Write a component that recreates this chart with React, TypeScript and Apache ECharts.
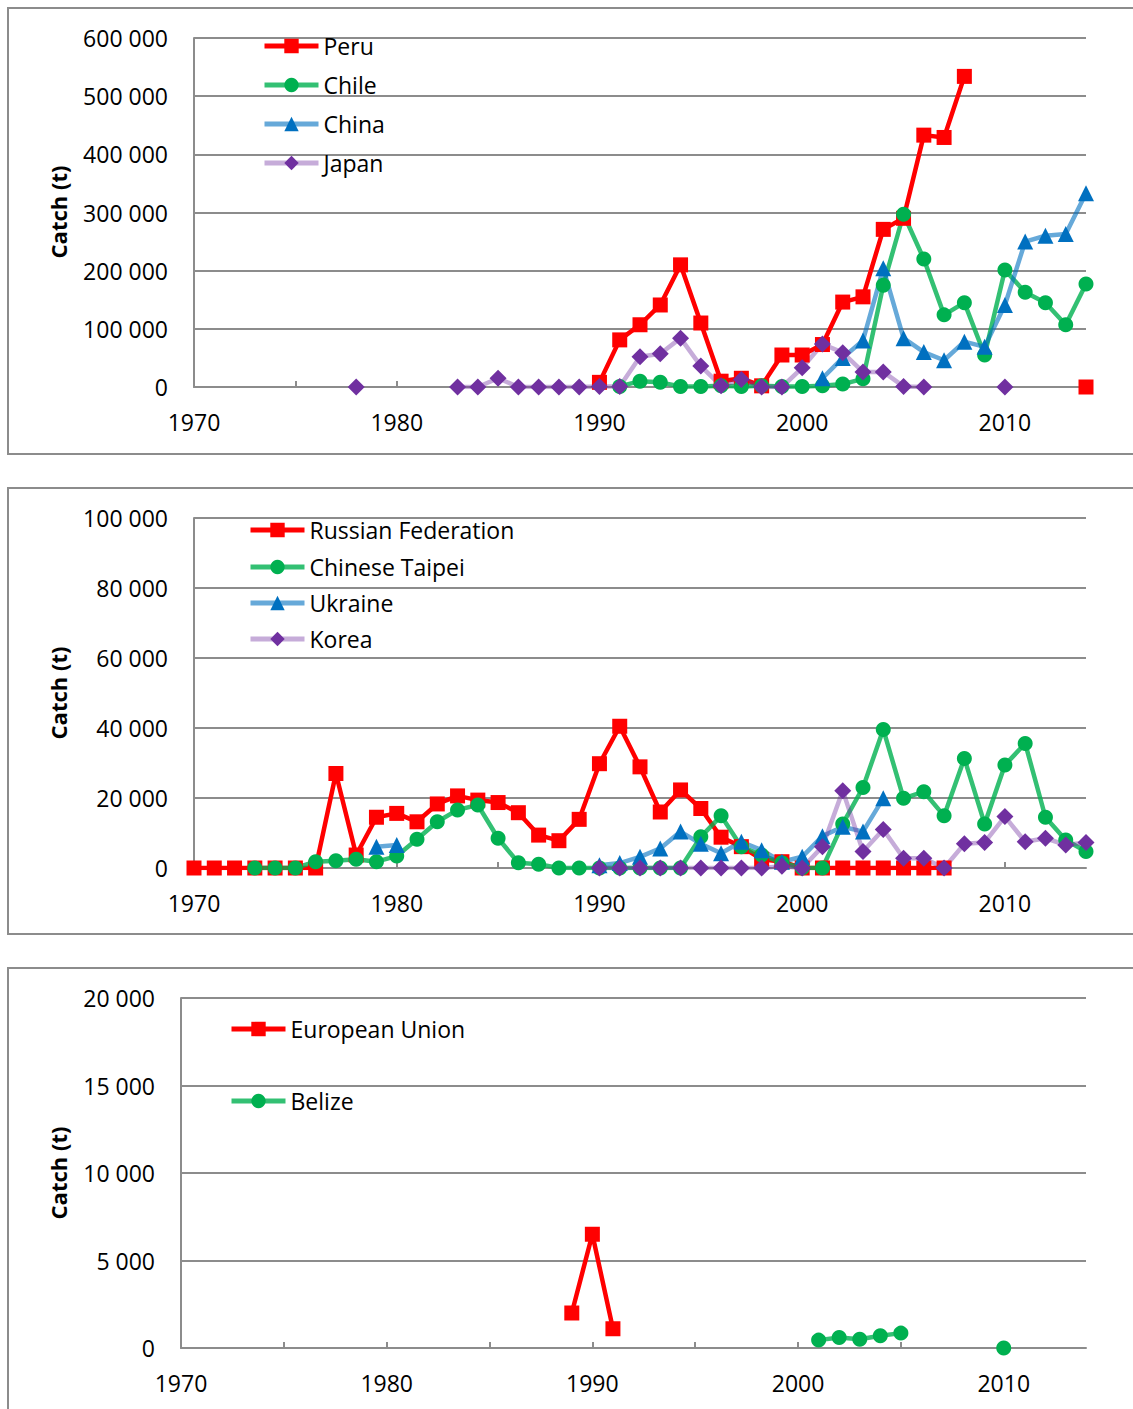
import React, { useEffect, useRef } from 'react';
import * as echarts from 'echarts';

const years = [
  '1970','1971','1972','1973','1974','1975','1976','1977','1978','1979',
  '1980','1981','1982','1983','1984','1985','1986','1987','1988','1989',
  '1990','1991','1992','1993','1994','1995','1996','1997','1998','1999',
  '2000','2001','2002','2003','2004','2005','2006','2007','2008','2009',
  '2010','2011','2012','2013','2014',
];

const _ = null;

// Panel 1
const peru = [
  _, _, _, _, _, _, _, _, _, _,
  _, _, _, _, _, _, _, _, _, _,
  8000, 81000, 107000, 141000, 210000, 110000, 10000, 15000, 2000, 55000,
  55000, 73000, 146000, 155000, 271000, 290000, 433000, 429000, 534000, _,
  _, _, _, _, 0,
];
const chile = [
  _, _, _, _, _, _, _, _, _, _,
  _, _, _, _, _, _, _, _, _, _,
  _, 1000, 10000, 8000, 1000, 1000, 2000, 1000, 2000, 1000,
  1000, 2000, 5000, 14000, 175000, 297000, 220000, 124000, 145000, 55000,
  201000, 163000, 145000, 107000, 177000,
];
const china = [
  _, _, _, _, _, _, _, _, _, _,
  _, _, _, _, _, _, _, _, _, _,
  _, _, _, _, _, _, _, _, _, _,
  _, 15000, 50000, 80000, 204000, 84000, 60000, 46000, 78000, 69000,
  141000, 250000, 260000, 263000, 333000,
];
const japan = [
  _, _, _, _, _, _, _, _, 0, _,
  _, _, _, 0, 0, 15000, 0, 0, 0, 0,
  1000, 1000, 52000, 57000, 84000, 36000, 2000, 13000, 0, 0,
  33000, 74000, 59000, 26000, 26000, 1000, 0, _, _, _,
  0, _, _, _, _,
];

// Panel 2
const russia = [
  0, 0, 0, 0, 0, 0, 0, 27000, 3700, 14500,
  15600, 13200, 18300, 20600, 19400, 18700, 15800, 9400, 7800, 13900,
  29800, 40500, 28900, 16000, 22300, 17000, 8800, 6100, 2500, 1800,
  0, 0, 0, 0, 0, 0, 0, 0, _, _,
  _, _, _, _, _,
];
const taipei = [
  _, _, _, 0, 0, 0, 1800, 2100, 2500, 1800,
  3400, 8200, 13200, 16600, 18000, 8500, 1500, 1100, 0, 0,
  0, 0, 0, 0, 0, 8900, 14900, 6100, 3700, 1500,
  0, 0, 12600, 23000, 39600, 19900, 21800, 14900, 31300, 12600,
  29400, 35600, 14500, 8000, 4700,
];
const ukraine = [
  _, _, _, _, _, _, _, _, _, 6100,
  6600, _, _, _, _, _, _, _, _, _,
  800, 1400, 3200, 5600, 10400, 6900, 4200, 7500, 5100, 1800,
  3200, 9100, 11800, 10400, 19900, _, _, _, _, _,
  _, _, _, _, _,
];
const korea = [
  _, _, _, _, _, _, _, _, _, _,
  _, _, _, _, _, _, _, _, _, _,
  0, 0, 0, 0, 0, 0, 0, 0, 0, 500,
  0, 6100, 22100, 4700, 11000, 2800, 2800, 0, 6900, 7300,
  14700, 7500, 8500, 6600, 7300,
];

// Panel 3
const eu = [
  _, _, _, _, _, _, _, _, _, _,
  _, _, _, _, _, _, _, _, _, 2000,
  6500, 1100, _, _, _, _, _, _, _, _,
  _, _, _, _, _, _, _, _, _, _,
  _, _, _, _, _,
];
const belize = [
  _, _, _, _, _, _, _, _, _, _,
  _, _, _, _, _, _, _, _, _, _,
  _, _, _, _, _, _, _, _, _, _,
  _, 450, 600, 500, 700, 850, _, _, _, _,
  0, _, _, _, _,
];

const yMax = [600000, 100000, 20000];
const yStep = [100000, 20000, 5000];
const yName = 'Catch (t)';

const FONT = '"Open Sans", "Noto Sans", sans-serif';
const GRAY = '#8c8c8c';

const STYLES: Record<string, any> = {
  red: { symbol: 'rect', size: 15, marker: '#FF0000', line: '#FF0000', op: 1 },
  green: { symbol: 'circle', size: 15, marker: '#00B050', line: '#00B050', op: 0.8 },
  blue: { symbol: 'triangle', size: 16, marker: '#0070C0', line: '#0070C0', op: 0.6 },
  purple: { symbol: 'diamond', size: 17, marker: '#7030A0', line: '#7030A0', op: 0.4 },
};

function mk(name: string, data: any[], kind: string, idx: number) {
  const st = STYLES[kind];
  return {
    name,
    type: 'line',
    xAxisIndex: idx,
    yAxisIndex: idx,
    data,
    symbol: st.symbol,
    symbolSize: st.size,
    showSymbol: true,
    showAllSymbol: true,
    connectNulls: false,
    itemStyle: { color: st.marker },
    lineStyle: { color: st.line, width: 4.5, opacity: st.op },
    emphasis: { disabled: true },
  };
}

function fmt(v: number) {
  return String(v).replace(/\B(?=(\d{3})+(?!\d))/g, ' ');
}

const grids = [
  { left: 194, top: 38, width: 892, height: 349 },
  { left: 194, top: 518, width: 892, height: 350 },
  { left: 181, top: 998, width: 905, height: 350 },
];

const legendPos = [
  { name: 'Peru', left: 262, cy: 46 },
  { name: 'Chile', left: 262, cy: 85 },
  { name: 'China', left: 262, cy: 124 },
  { name: 'Japan', left: 262, cy: 163 },
  { name: 'Russian Federation', left: 248, cy: 530 },
  { name: 'Chinese Taipei', left: 248, cy: 567 },
  { name: 'Ukraine', left: 248, cy: 603 },
  { name: 'Korea', left: 248, cy: 639 },
  { name: 'European Union', left: 229, cy: 1029 },
  { name: 'Belize', left: 229, cy: 1101 },
];

export default function App() {
  const ref = useRef<HTMLDivElement>(null);
  useEffect(() => {
    if (!ref.current) return;
    const chart = echarts.init(ref.current, undefined, { renderer: 'svg' });
    const xAxis = grids.map((_g, i) => ({
      type: 'category',
      gridIndex: i,
      data: years,
      boundaryGap: false,
      axisLine: { show: true, lineStyle: { color: GRAY, width: 2 } },
      axisTick: {
        show: true,
        inside: true,
        length: 6,
        interval: (idx: number) => idx % 5 === 0,
        lineStyle: { color: GRAY, width: 2 },
      },
      axisLabel: {
        interval: (idx: number) => idx % 10 === 0,
        margin: 23,
        fontSize: 23,
        fontFamily: FONT,
        color: '#000',
      },
      splitLine: { show: false },
    }));
    const yAxis = grids.map((_g, i) => ({
      type: 'value',
      gridIndex: i,
      min: 0,
      max: yMax[i],
      interval: yStep[i],
      axisLine: { show: true, lineStyle: { color: GRAY, width: 2 } },
      axisTick: { show: false },
      axisLabel: {
        margin: 26,
        fontSize: 23,
        fontFamily: FONT,
        color: '#000',
        formatter: (v: number) => fmt(v),
      },
      splitLine: { show: true, lineStyle: { color: GRAY, width: 2 } },
    }));
    const series = [
      mk('Peru', peru, 'red', 0),
      mk('Chile', chile, 'green', 0),
      mk('China', china, 'blue', 0),
      mk('Japan', japan, 'purple', 0),
      mk('Russian Federation', russia, 'red', 1),
      mk('Chinese Taipei', taipei, 'green', 1),
      mk('Ukraine', ukraine, 'blue', 1),
      mk('Korea', korea, 'purple', 1),
      mk('European Union', eu, 'red', 2),
      mk('Belize', belize, 'green', 2),
    ];
    const legend = legendPos.map((l) => ({
      data: [l.name],
      left: l.left,
      top: l.cy - 14,
      orient: 'vertical',
      padding: 0,
      itemWidth: 54,
      itemHeight: 18,
      selectedMode: false,
      lineStyle: { width: 5 },
      textStyle: { fontSize: 23, fontFamily: FONT, color: '#000', lineHeight: 28 },
    }));
    const panels = [
      { y: 8, h: 446, cy: 212 },
      { y: 488, h: 446, cy: 693 },
      { y: 968, h: 460, cy: 1173 },
    ];
    const graphic: any[] = [];
    panels.forEach((p) => {
      graphic.push({
        type: 'rect',
        silent: true,
        z: -10,
        shape: { x: 8, y: p.y, width: 1145, height: p.h },
        style: { fill: 'none', stroke: GRAY, lineWidth: 2 },
      });
      graphic.push({
        type: 'text',
        silent: true,
        x: 58,
        y: p.cy,
        rotation: Math.PI / 2,
        style: {
          text: yName,
          fontSize: 22,
          fontWeight: 'bold',
          fontFamily: FONT,
          fill: '#000',
          textAlign: 'center',
          textVerticalAlign: 'middle',
        },
      });
    });
    chart.setOption({
      animation: false,
      backgroundColor: '#fff',
      grid: grids,
      xAxis,
      yAxis,
      legend,
      series,
      graphic,
    });
    return () => chart.dispose();
  }, []);
  return (
    <div
      ref={ref}
      style={{ position: 'absolute', left: 0, top: 0, width: 1133, height: 1409 }}
    />
  );
}
